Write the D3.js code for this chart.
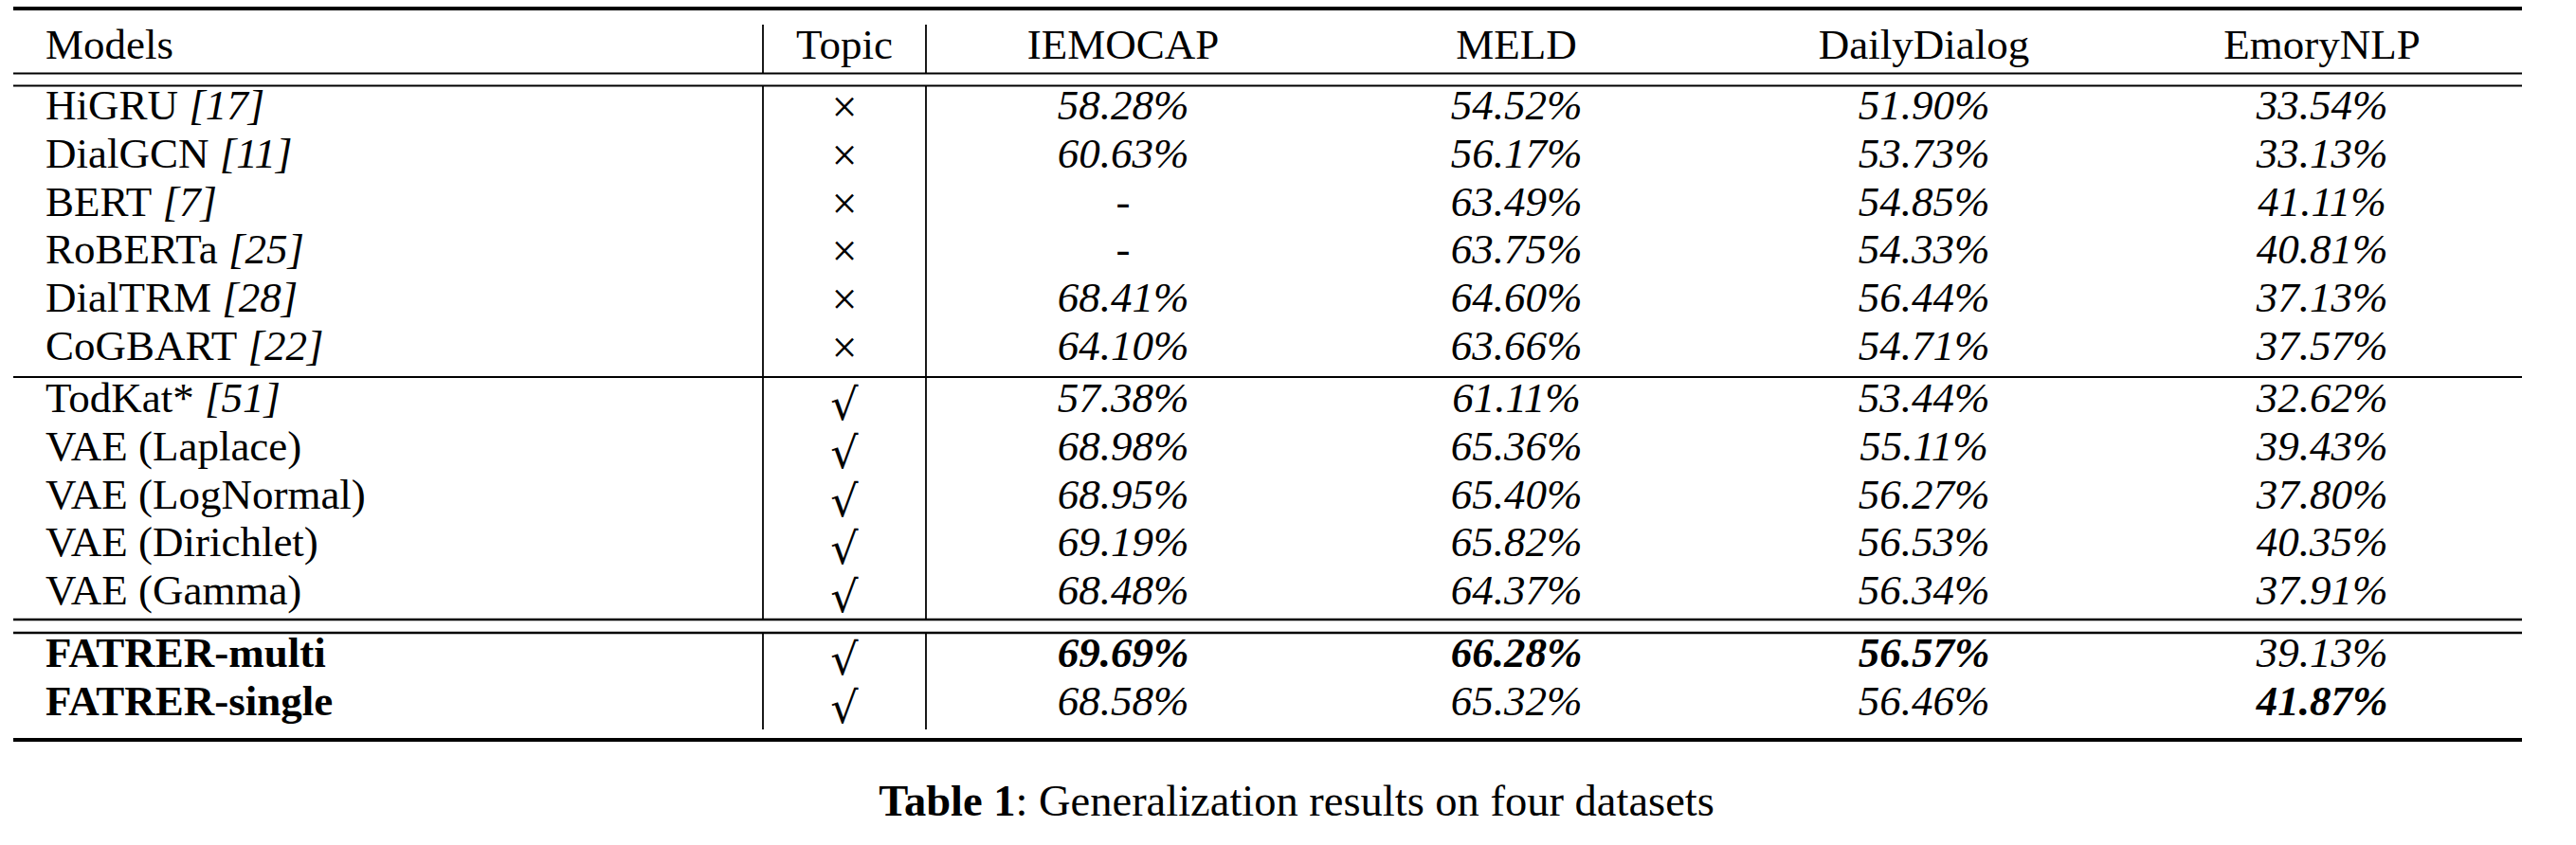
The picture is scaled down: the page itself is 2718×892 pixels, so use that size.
<!DOCTYPE html>
<html>
<head>
<meta charset="utf-8">
<script src="https://cdn.jsdelivr.net/npm/d3@7"></script>
<style>
  html, body { margin: 0; padding: 0; background: #fff; }
  svg { display: block; }
</style>
</head>
<body>
<svg id="chart" width="2718" height="892"></svg>
<script>
// ---------- data ----------
const columns = ["Models", "Topic", "IEMOCAP", "MELD", "DailyDialog", "EmoryNLP"];
const datasets = ["IEMOCAP", "MELD", "DailyDialog", "EmoryNLP"];
const models = ["HiGRU", "DialGCN", "BERT", "RoBERTa", "DialTRM", "CoGBART",
                "TodKat*", "VAE (Laplace)", "VAE (LogNormal)", "VAE (Dirichlet)", "VAE (Gamma)",
                "FATRER-multi", "FATRER-single"];
const citations = ["[17]", "[11]", "[7]", "[25]", "[28]", "[22]", "[51]", "", "", "", "", "", ""];
const groups = [0, 0, 0, 0, 0, 0, 1, 1, 1, 1, 1, 2, 2];
const topic = [false, false, false, false, false, false, true, true, true, true, true, true, true];
const iemocap = [58.28, 60.63, null, null, 68.41, 64.10, 57.38, 68.98, 68.95, 69.19, 68.48, 69.69, 68.58];
const meld = [54.52, 56.17, 63.49, 63.75, 64.60, 63.66, 61.11, 65.36, 65.40, 65.82, 64.37, 66.28, 65.32];
const dailyDialog = [51.90, 53.73, 54.85, 54.33, 56.44, 54.71, 53.44, 55.11, 56.27, 56.53, 56.34, 56.57, 56.46];
const emoryNLP = [33.54, 33.13, 41.11, 40.81, 37.13, 37.57, 32.62, 39.43, 37.80, 40.35, 37.91, 39.13, 41.87];
// bold cells: [row, dataset]
const boldCells = [[11, "IEMOCAP"], [11, "MELD"], [11, "DailyDialog"], [12, "EmoryNLP"]];
const boldModels = ["FATRER-multi", "FATRER-single"];
const captionLabel = "Table 1";
const captionText = ": Generalization results on four datasets";

const values = { IEMOCAP: iemocap, MELD: meld, DailyDialog: dailyDialog, EmoryNLP: emoryNLP };

// ---------- layout ----------
const svg = d3.select("#chart");
const serif = "'Liberation Serif', 'Times New Roman', 'DejaVu Serif', serif";
const fontSize = 45;
const tableLeft = 14, tableRight = 2661;

const colX = d3.scaleOrdinal()
  .domain(columns)
  .range([48, 891, 1185, 1600, 2030, 2450]);

const rowY = d3.scaleLinear().domain([0, 1]).range([126, 176.8]);
const groupOffset = d3.scaleOrdinal().domain([0, 1, 2]).range([0, 4.2, 19.2]);
const yOf = i => rowY(i) + groupOffset(groups[i]);
const headerY = 62;

// rules
const rules = [
  { y: 9, w: 4 },
  { y: 77.5, w: 2.2 },
  { y: 90.5, w: 2.2 },
  { y: 398, w: 2 },
  { y: 654, w: 2.4 },
  { y: 668, w: 2.4 },
  { y: 781, w: 4 }
];
svg.selectAll("line.rule").data(rules).join("line")
  .attr("class", "rule")
  .attr("x1", tableLeft).attr("x2", tableRight)
  .attr("y1", d => d.y).attr("y2", d => d.y)
  .attr("stroke", "#000").attr("stroke-width", d => d.w);

// vertical separators
const vx = [805, 977];
const vSegs = [[26, 77.5], [90.5, 654], [668, 770]];
vx.forEach(x => {
  svg.selectAll(null).data(vSegs).join("line")
    .attr("x1", x).attr("x2", x)
    .attr("y1", d => d[0]).attr("y2", d => d[1])
    .attr("stroke", "#000").attr("stroke-width", 1.8);
});

// header
svg.selectAll("text.head").data(columns).join("text")
  .attr("class", "head")
  .attr("x", d => colX(d))
  .attr("y", headerY)
  .attr("text-anchor", d => d === "Models" ? "start" : "middle")
  .attr("font-family", serif)
  .attr("font-size", fontSize)
  .text(d => d);

// model names
const modelText = svg.selectAll("text.model").data(models).join("text")
  .attr("class", "model")
  .attr("x", colX("Models"))
  .attr("y", (d, i) => yOf(i))
  .attr("font-family", serif)
  .attr("font-size", fontSize)
  .attr("font-weight", d => boldModels.includes(d) ? "bold" : "normal");
modelText.append("tspan").text(d => d);
modelText.append("tspan").attr("font-style", "italic")
  .text((d, i) => citations[i] ? " " + citations[i] : "");

// topic marks
svg.selectAll("text.topic").data(topic).join("text")
  .attr("class", "topic")
  .attr("x", colX("Topic"))
  .attr("y", (d, i) => yOf(i) + (d ? 8 : 3))
  .attr("text-anchor", "middle")
  .attr("font-family", d => d ? "'DejaVu Sans', sans-serif" : serif)
  .attr("font-size", d => d ? 46 : 48)
  .text(d => d ? "\u221A" : "\u00D7");

// values
const isBold = (i, ds) => boldCells.some(c => c[0] === i && c[1] === ds);
datasets.forEach(ds => {
  svg.selectAll(null).data(values[ds]).join("text")
    .attr("x", colX(ds))
    .attr("y", (d, i) => yOf(i))
    .attr("text-anchor", "middle")
    .attr("font-family", serif)
    .attr("font-size", fontSize)
    .attr("font-style", d => d === null ? "normal" : "italic")
    .attr("font-weight", (d, i) => isBold(i, ds) ? "bold" : "normal")
    .text(d => d === null ? "-" : d3.format(".2f")(d) + "%");
});

// caption
const cap = svg.append("text")
  .attr("x", 1368)
  .attr("y", 861)
  .attr("text-anchor", "middle")
  .attr("font-family", serif)
  .attr("font-size", 46.5);
cap.append("tspan").attr("font-weight", "bold").text(captionLabel);
cap.append("tspan").text(captionText);
</script>
</body>
</html>
